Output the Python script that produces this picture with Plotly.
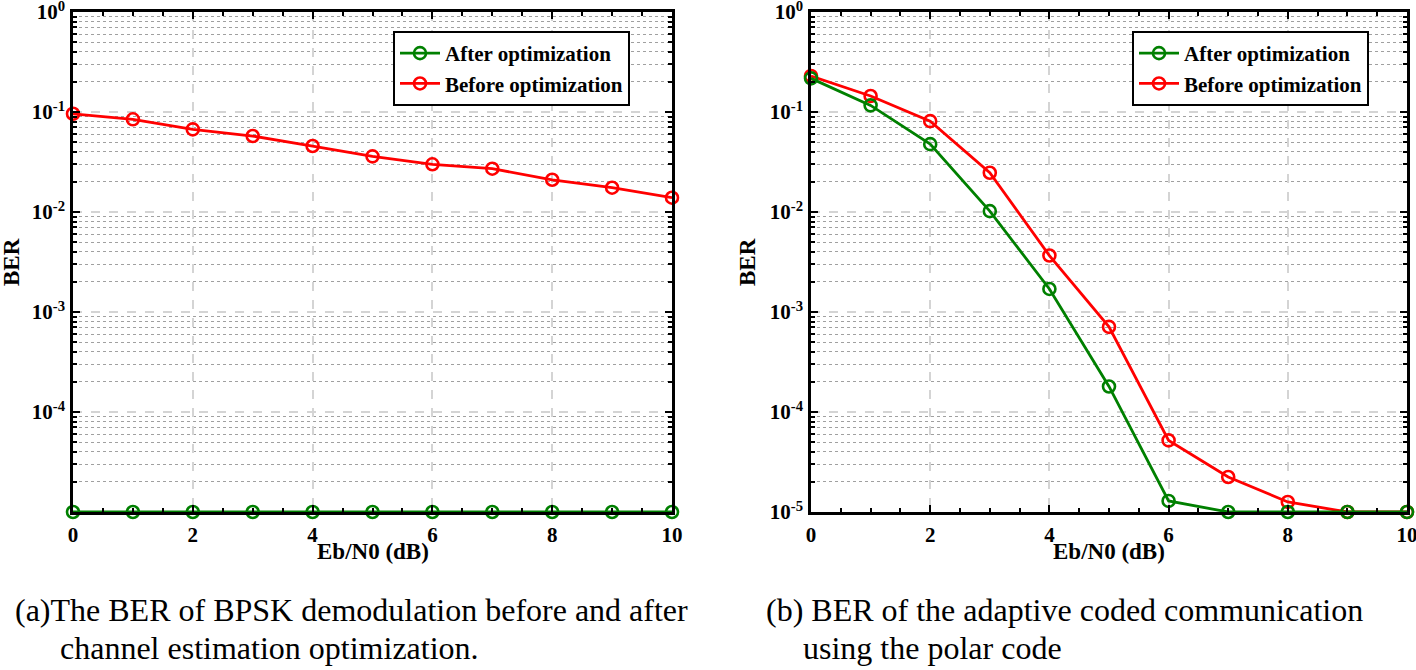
import plotly.graph_objects as go

# ---------------- data ----------------
ebn0 = [0, 1, 2, 3, 4, 5, 6, 7, 8, 9, 10]

# (a) BPSK demodulation
a_before = [0.096, 0.0845, 0.067, 0.0575, 0.0457, 0.036, 0.030, 0.0271, 0.021, 0.0175, 0.0139]
a_after = [1e-5, 1e-5, 1e-5, 1e-5, 1e-5, 1e-5, 1e-5, 1e-5, 1e-5, 1e-5, 1e-5]

# (b) adaptive coded communication, polar code
b_before = [0.229, 0.1445, 0.081, 0.0247, 0.00367, 7.1e-4, 5.2e-5, 2.24e-5, 1.26e-5, 1e-5, 1e-5]
b_after = [0.217, 0.1165, 0.0477, 0.0102, 0.0017, 1.8e-4, 1.29e-5, 1e-5, 1e-5, 1e-5, 1e-5]

series_names = ["After optimization", "Before optimization"]
xticks = [0, 2, 4, 6, 8, 10]
ytick_vals_a = [1e-4, 1e-3, 1e-2, 1e-1, 1e0]
ytick_text_a = ["10<sup>-4</sup>", "10<sup>-3</sup>", "10<sup>-2</sup>", "10<sup>-1</sup>", "10<sup>0</sup>"]
ytick_vals_b = [1e-5, 1e-4, 1e-3, 1e-2, 1e-1, 1e0]
ytick_text_b = ["10<sup>-5</sup>", "10<sup>-4</sup>", "10<sup>-3</sup>", "10<sup>-2</sup>", "10<sup>-1</sup>", "10<sup>0</sup>"]
x_title = "Eb/N0 (dB)"
y_title = "BER"
caption_a = ["(a)The BER of BPSK demodulation before and after", "channel estimation optimization."]
caption_b = ["(b) BER of the adaptive coded communication", "using the polar code"]

# ---------------- styling ----------------
W, H = 1416, 670
GREEN = "#008000"
RED = "#ff0000"
FONT = "Liberation Serif"
TOP, BOTTOM = 12, 512
LEFT_A, RIGHT_A = 73, 672
LEFT_B, RIGHT_B = 811, 1407

def px_x(p):
    return p / W

def px_y(p):
    return 1 - p / H

minor_vals = [m * 10 ** e for e in range(-5, 0) for m in range(2, 10)]

fig = go.Figure()

def add_series(xa, ya, leg, before, after):
    fig.add_trace(go.Scatter(
        x=ebn0, y=before, name=series_names[1], mode="lines+markers",
        line=dict(color=RED, width=2.8),
        marker=dict(symbol="circle-open", size=12, color=RED, line=dict(width=2.6)),
        xaxis=xa, yaxis=ya, legend=leg, legendrank=2, cliponaxis=False))
    fig.add_trace(go.Scatter(
        x=ebn0, y=after, name=series_names[0], mode="lines+markers",
        line=dict(color=GREEN, width=2.8),
        marker=dict(symbol="circle-open", size=12, color=GREEN, line=dict(width=2.6)),
        xaxis=xa, yaxis=ya, legend=leg, legendrank=1, cliponaxis=False))

add_series("x", "y", "legend", a_before, a_after)
add_series("x2", "y2", "legend2", b_before, b_after)

tickfont = dict(family=FONT, size=21, color="black", weight="bold")

def xaxis_def(dom, anchor):
    return dict(
        domain=dom, anchor=anchor, range=[0, 10], tickvals=xticks,
        ticks="inside", ticklen=7, tickwidth=2, tickcolor="black",
        showline=True, linewidth=2.5, linecolor="black", mirror="allticks",
        showgrid=True, gridcolor="#d4d4d4", gridwidth=2, griddash="dash",
        zeroline=False, tickfont=tickfont, automargin=False, ticklabeloverflow="allow",
        ticklabelstandoff=2,
        minor=dict(dtick=0.5, ticks="inside", ticklen=4, tickwidth=2, tickcolor="black", showgrid=False),
    )

def yaxis_def(anchor, tv, tt):
    return dict(
        domain=[px_y(BOTTOM), px_y(TOP)], anchor=anchor, type="log", range=[-5, 0],
        tickvals=tv, ticktext=tt,
        ticks="inside", ticklen=7, tickwidth=2, tickcolor="black",
        showline=True, linewidth=2.5, linecolor="black", mirror="allticks",
        showgrid=True, gridcolor="#d4d4d4", gridwidth=2, griddash="dash",
        zeroline=False, tickfont=tickfont, automargin=False, ticklabeloverflow="allow",
        ticklabelstandoff=1,
        minor=dict(tickvals=minor_vals, ticks="inside", ticklen=4, tickwidth=2, tickcolor="black",
                   showgrid=True, gridcolor="#a0a0a0", gridwidth=1.3, griddash="dot"),
    )

legend_common = dict(
    bgcolor="white", bordercolor="black", borderwidth=2,
    font=dict(family=FONT, size=21, color="black", weight="bold"),
    xanchor="left", yanchor="top", xref="paper", yref="paper",
    tracegroupgap=0, itemwidth=40,
)

annotations = []

def add_text(text, x, y, size, bold=False, angle=0, xanchor="center"):
    f = dict(family=FONT, size=size, color="black")
    if bold:
        f["weight"] = "bold"
    annotations.append(dict(text=text, x=px_x(x), y=px_y(y), xref="paper", yref="paper",
                            xanchor=xanchor, yanchor="middle", showarrow=False,
                            textangle=angle, font=f))

# axis titles
add_text(x_title, (LEFT_A + RIGHT_A) / 2, 551, 23, bold=True)
add_text(x_title, (LEFT_B + RIGHT_B) / 2, 551, 23, bold=True)
add_text(y_title, 12, 262, 23, bold=True, angle=-90)
add_text(y_title, 748, 262, 23, bold=True, angle=-90)

# captions
add_text(caption_a[0], 13, 610, 32, xanchor="left")
add_text(caption_a[1], 58, 648, 32, xanchor="left")
add_text(caption_b[0], 764, 610, 32, xanchor="left")
add_text(caption_b[1], 801, 648, 32, xanchor="left")

fig.update_layout(
    width=W, height=H, margin=dict(l=0, r=0, t=0, b=0, autoexpand=False),
    paper_bgcolor="white", plot_bgcolor="white",
    xaxis=xaxis_def([px_x(LEFT_A), px_x(RIGHT_A)], "y"),
    yaxis=yaxis_def("x", ytick_vals_a, ytick_text_a),
    xaxis2=xaxis_def([px_x(LEFT_B), px_x(RIGHT_B)], "y2"),
    yaxis2=yaxis_def("x2", ytick_vals_b, ytick_text_b),
    legend=dict(x=px_x(393), y=px_y(31), **legend_common),
    legend2=dict(x=px_x(1132), y=px_y(31), **legend_common),
    annotations=annotations,
    showlegend=True,
)

fig.write_html("out.html", config={"displayModeBar": False},
               post_script="document.body.style.margin='0';document.body.style.overflow='hidden';")
